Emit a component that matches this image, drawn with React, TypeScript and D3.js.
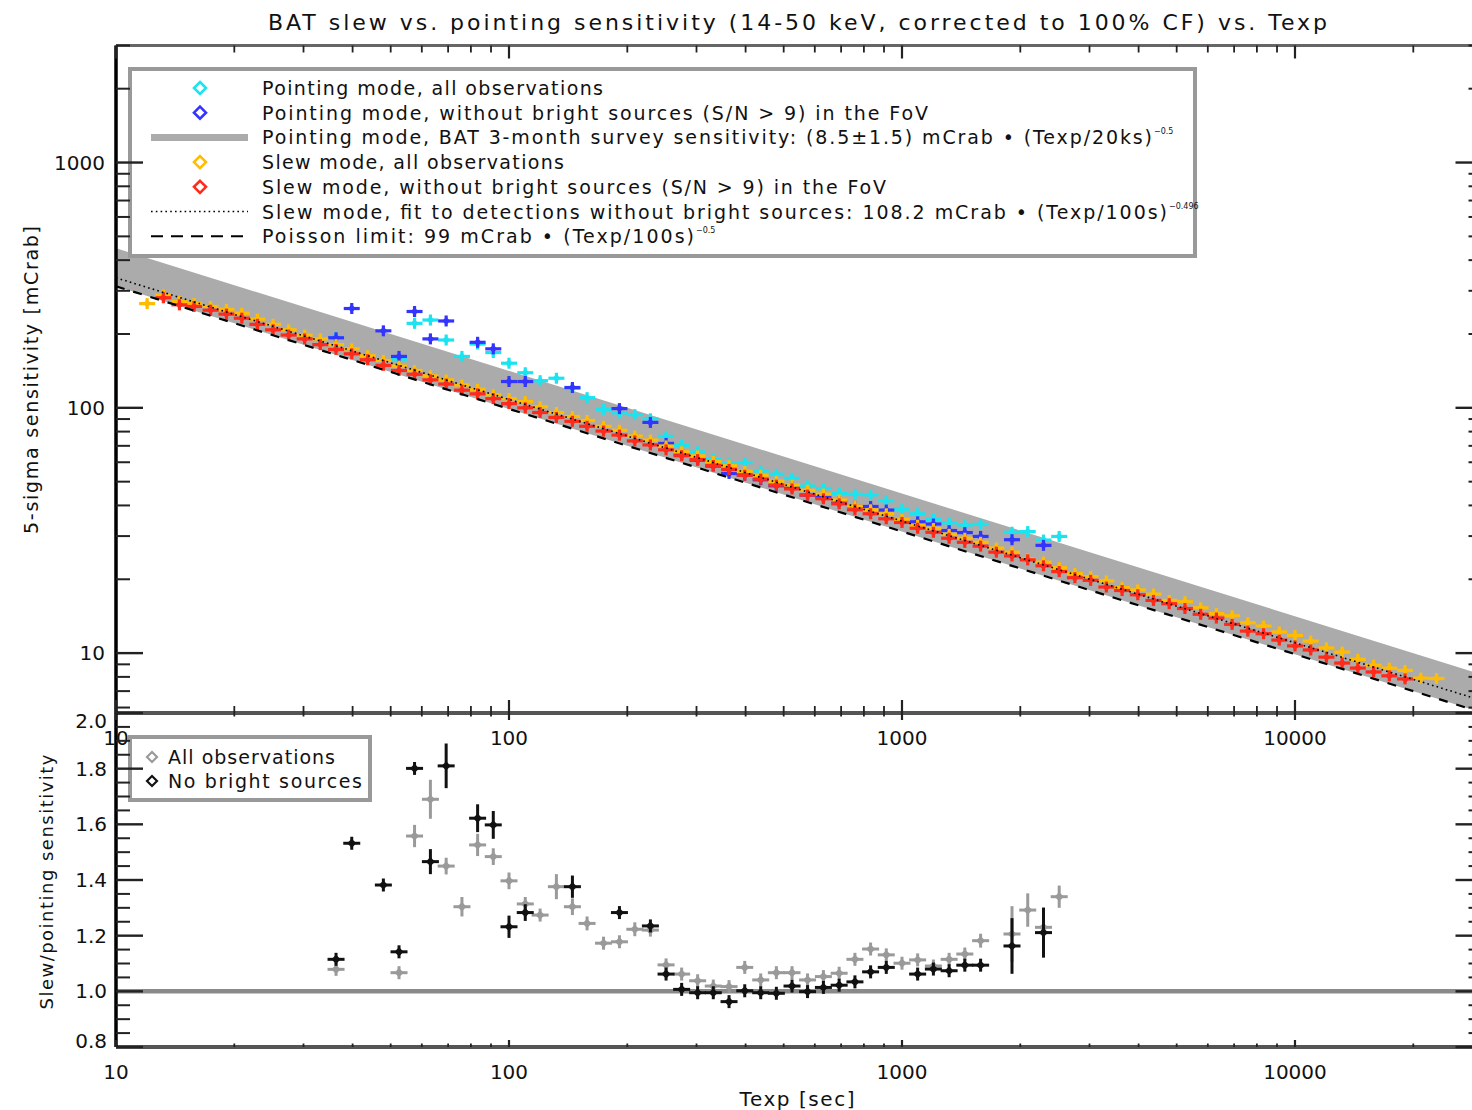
import React from "react";
import * as d3 from "d3";

// Exposure-time bins (s), 0.04 dex wide
const texpBins = [
  12.0, 13.2, 14.5, 15.8, 17.4, 19.1, 20.9, 22.9, 25.1, 27.5,
  30.2, 33.1, 36.3, 39.8, 43.7, 47.9, 52.5, 57.5, 63.1, 69.2,
  75.9, 83.2, 91.2, 100, 110, 120, 132, 145, 158, 174,
  191, 209, 229, 251, 275, 302, 331, 363, 398, 437,
  479, 525, 575, 631, 692, 759, 832, 912, 1000, 1096,
  1202, 1318, 1445, 1585, 1738, 1905, 2089, 2291, 2512, 2754,
  3020, 3311, 3631, 3981, 4365, 4786, 5248, 5754, 6310, 6918,
  7586, 8318, 9120, 10000, 10965, 12023, 13183, 14454, 15849, 17378,
  19055, 20893, 22909,
];

// Slew mode, all observations: 5-sigma sensitivity (mCrab)
const slewAllSens = [
  266, 288, 271, 266, 259, 252, 243, 230, 219, 208,
  198, 191, 181, 174, 163, 156, 148, 142, 135, 130,
  124, 119, 113, 109, 106, 101, 95.7, 92.2, 88.8, 84.1,
  81.0, 76.7, 73.9, 69.9, 66.2, 63.7, 60.4, 58.1, 55.1, 53.1,
  50.2, 48.4, 46.1, 44.5, 42.1, 39.8, 38.4, 37.0, 35.1, 33.2,
  32.2, 30.5, 29.4, 28.3, 26.8, 25.8, 24.2, 23.5, 22.3, 21.1,
  20.5, 19.7, 18.5, 18.1, 17.4, 16.4, 16.2, 15.3, 14.5, 14.2,
  13.3, 12.9, 12.2, 11.8, 11.2, 10.5, 10.1, 9.43, 8.93, 8.68,
  8.50, 7.91, 7.88,
];

// Slew mode, without bright sources (bins 13.2 s .. 19055 s)
const slewNoBrightTexp = texpBins.slice(1, 81);
const slewNoBrightSens = [
  281, 263, 259, 250, 241, 232, 219, 208, 198, 191,
  181, 173, 166, 157, 149, 142, 137, 130, 125, 118,
  114, 109, 104, 100, 95.7, 91.4, 88.1, 84.1, 80.4, 77.4,
  73.3, 70.6, 67.4, 63.8, 61.5, 58.2, 56.1, 53.1, 51.2, 48.4,
  46.7, 44.1, 42.6, 40.6, 38.4, 37.0, 35.3, 34.1, 32.3, 31.1,
  29.4, 28.3, 27.3, 25.8, 24.9, 24.0, 22.7, 21.5, 20.3, 19.8,
  18.6, 18.0, 17.3, 16.4, 15.9, 15.2, 14.4, 13.9, 13.1, 12.3,
  12.0, 11.3, 10.7, 10.3, 9.63, 9.11, 8.69, 8.38, 8.08, 7.85,
];

// Pointing mode, all observations, and the ratio to slew mode
const pointingAllTexp = [
  36.3, 52.5, 57.5, 63.1, 69.2, 75.9, 83.2, 91.2, 100, 110,
  120, 132, 145, 158, 174, 191, 209, 229, 251, 275,
  302, 331, 363, 398, 437, 479, 525, 575, 631, 692,
  759, 832, 912, 1000, 1096, 1202, 1318, 1445, 1585, 1905,
  2089, 2291, 2512,
];
const pointingAllSens = [
  195, 158, 221, 228, 189, 162, 182, 168, 152, 139,
  129, 132, 120, 110, 98.6, 95.4, 93.8, 90.2, 76.5, 70.3,
  66.1, 61.5, 59.1, 59.8, 55.3, 53.6, 51.6, 48.0, 46.9, 44.8,
  44.4, 44.2, 41.8, 38.6, 37.0, 35.1, 34.0, 33.3, 33.5, 31.1,
  31.3, 28.9, 29.9,
];
const ratioAll = [
  1.079, 1.067, 1.558, 1.690, 1.450, 1.304, 1.526, 1.484, 1.397, 1.314,
  1.274, 1.376, 1.304, 1.244, 1.173, 1.178, 1.223, 1.220, 1.095, 1.062,
  1.038, 1.019, 1.017, 1.086, 1.041, 1.067, 1.067, 1.041, 1.053, 1.065,
  1.115, 1.152, 1.131, 1.101, 1.113, 1.091, 1.115, 1.134, 1.182, 1.206,
  1.292, 1.230, 1.340,
];
const ratioAllErr = [
  0.02, 0.02, 0.04, 0.07, 0.03, 0.035, 0.04, 0.03, 0.03, 0.025,
  0.02, 0.045, 0.03, 0.025, 0.02, 0.02, 0.025, 0.02, 0.02, 0.015,
  0.015, 0.015, 0.015, 0.015, 0.015, 0.015, 0.015, 0.015, 0.015, 0.015,
  0.02, 0.02, 0.02, 0.02, 0.02, 0.02, 0.02, 0.02, 0.025, 0.10,
  0.06, 0.05, 0.04,
];

// Pointing mode, without bright sources, and the ratio to slew mode
const pointingNoBrightTexp = [
  36.3, 39.8, 47.9, 52.5, 57.5, 63.1, 69.2, 83.2, 91.2, 100,
  110, 145, 191, 229, 251, 275, 302, 331, 363, 398,
  437, 479, 525, 575, 631, 692, 759, 832, 912, 1096,
  1202, 1318, 1445, 1585, 1905, 2291,
];
const pointingNoBrightSens = [
  193, 254, 206, 162, 247, 191, 226, 185, 174, 128,
  128, 121, 99.3, 87.2, 71.6, 64.2, 61.2, 57.9, 54.0, 53.2,
  50.9, 48.1, 47.6, 44.1, 43.2, 41.5, 39.7, 39.6, 38.3, 34.3,
  33.6, 31.6, 31.0, 29.9, 29.0, 27.5,
];
const ratioNoBright = [
  1.115, 1.532, 1.382, 1.142, 1.801, 1.466, 1.810, 1.622, 1.598, 1.232,
  1.283, 1.376, 1.283, 1.235, 1.062, 1.007, 0.995, 0.995, 0.963, 1.002,
  0.995, 0.993, 1.019, 0.999, 1.014, 1.022, 1.034, 1.070, 1.086, 1.062,
  1.080, 1.074, 1.094, 1.094, 1.163, 1.211,
];
const ratioNoBrightErr = [
  0.015, 0.015, 0.015, 0.02, 0.02, 0.045, 0.08, 0.05, 0.05, 0.04,
  0.03, 0.04, 0.015, 0.02, 0.015, 0.015, 0.015, 0.015, 0.015, 0.015,
  0.015, 0.015, 0.015, 0.015, 0.015, 0.015, 0.015, 0.015, 0.015, 0.015,
  0.015, 0.015, 0.015, 0.015, 0.10, 0.09,
];

// Tick labels
const xTickLabels = [10, 100, 1000, 10000];
const yTopTickLabels = [10, 100, 1000];
const yBotTickLabels = ["0.8", "1.0", "1.2", "1.4", "1.6", "1.8", "2.0"];

// Model curves: survey band (8.5 +/- 1.5 mCrab at 20 ks), slew fit, Poisson limit
const surveyNorm = 8.5;
const surveyErr = 1.5;
const surveyPivot = 20000;
const fitNorm = 108.2;
const fitIndex = -0.496;
const poissonNorm = 99;
const poissonIndex = -0.5;
const modelPivot = 100;

const COL = {
  cyan: "#1ae4f0",
  blue: "#3434ff",
  orange: "#ffbc00",
  red: "#ff2a1a",
  gray: "#9a9a9a",
  black: "#111111",
  band: "#ababab",
};

const FONT = "'DejaVu Sans', Verdana, sans-serif";

const W = 1472;
const H = 1110;
const X0 = 116;
const X1 = 1482.5;
const YT0 = 45.5;
const YT1 = 713;
const YB1 = 1047;

const x = d3.scaleLog().domain([10, 30000]).range([X0, X1]);
const yTop = d3.scaleLog().domain([5.7, 3000]).range([YT1, YT0]);
const yBot = d3.scaleLinear().domain([0.8, 2.0]).range([YB1, YT1]);

const diamond = (cx: number, cy: number, r: number) =>
  `M${cx},${cy - r}L${cx + r},${cy}L${cx},${cy + r}L${cx - r},${cy}Z`;

function Marker(props: {
  cx: number;
  cy: number;
  hx: number;
  y1: number;
  y2: number;
  r: number;
  color: string;
  sw: number;
}) {
  const { cx, cy, hx, y1, y2, r, color, sw } = props;
  return (
    <g stroke={color} strokeWidth={sw}>
      <line x1={cx - hx} x2={cx + hx} y1={cy} y2={cy} />
      <line x1={cx} x2={cx} y1={y1} y2={y2} />
      <path d={diamond(cx, cy, r)} fill={color} stroke="none" />
    </g>
  );
}

function TopSeries(props: { texp: number[]; sens: number[]; color: string }) {
  return (
    <g>
      {props.texp.map((t, i) => {
        const cx = x(t);
        const cy = yTop(props.sens[i]);
        return (
          <Marker key={i} cx={cx} cy={cy} hx={8} y1={cy - 5.5} y2={cy + 5.5} r={4} color={props.color} sw={3.2} />
        );
      })}
    </g>
  );
}

function RatioSeries(props: { texp: number[]; ratio: number[]; err: number[]; color: string }) {
  return (
    <g>
      {props.texp.map((t, i) => {
        const cx = x(t);
        const v = props.ratio[i];
        const cy = yBot(v);
        const up = Math.min(yBot(v + props.err[i]), cy - 6.5);
        const dn = Math.max(yBot(v - props.err[i]), cy + 6.5);
        return <Marker key={i} cx={cx} cy={cy} hx={8.5} y1={up} y2={dn} r={4.6} color={props.color} sw={3} />;
      })}
    </g>
  );
}

const isDecade = (v: number) => Math.abs(Math.log10(v) - Math.round(Math.log10(v))) < 1e-6;

export default function App() {
  const modelT = [10, 30000];
  const band = d3
    .area<number>()
    .x((t) => x(t))
    .y0((t) => yTop((surveyNorm - surveyErr) * Math.pow(t / surveyPivot, -0.5)))
    .y1((t) => yTop((surveyNorm + surveyErr) * Math.pow(t / surveyPivot, -0.5)))(modelT);
  const fitLine = d3
    .line<number>()
    .x((t) => x(t))
    .y((t) => yTop(fitNorm * Math.pow(t / modelPivot, fitIndex)))(modelT);
  const poissonLine = d3
    .line<number>()
    .x((t) => x(t))
    .y((t) => yTop(poissonNorm * Math.pow(t / modelPivot, poissonIndex)))(modelT);

  const xTicks = x.ticks();
  const yTopTicks = yTop.ticks();
  const yBotMinor = yBot.ticks(24);

  const tickCol = "#222";

  // legend rows
  const legX = 262;
  const rowY = (i: number) => 88 + i * 24.7;
  const legendRows = [
    { text: "Pointing mode, all observations", len: 341 },
    { text: "Pointing mode, without bright sources (S/N > 9) in the FoV", len: 666 },
    { text: "Pointing mode, BAT 3-month survey sensitivity: (8.5\u00b11.5) mCrab \u2022 (Texp/20ks)", len: 890, sup: "\u22120.5" },
    { text: "Slew mode, all observations", len: 302 },
    { text: "Slew mode, without bright sources (S/N > 9) in the FoV", len: 624 },
    { text: "Slew mode, fit to detections without bright sources: 108.2 mCrab \u2022 (Texp/100s)", len: 905, sup: "\u22120.496" },
    { text: "Poisson limit: 99 mCrab \u2022 (Texp/100s)", len: 432, sup: "\u22120.5" },
  ];

  return (
    <svg
      width={W}
      height={H}
      viewBox={`0 0 ${W} ${H}`}
      style={{ position: "absolute", left: 0, top: 0, background: "#fff", display: "block" }}
      fontFamily={FONT}
    >
      <defs>
        <clipPath id="clipTop">
          <rect x={X0} y={YT0} width={X1 - X0} height={YT1 - YT0} />
        </clipPath>
        <clipPath id="clipBot">
          <rect x={X0} y={YT1} width={X1 - X0} height={YB1 - YT1} />
        </clipPath>
      </defs>
      <rect x={0} y={0} width={W} height={H} fill="#fff" />

      {/* title */}
      <text x={268} y={30} fontSize={22} textLength={1059} lengthAdjust="spacing" fill="#111">
        BAT slew vs. pointing sensitivity (14-50 keV, corrected to 100% CF) vs. Texp
      </text>

      {/* upper panel: sensitivity vs exposure */}
      <g clipPath="url(#clipTop)">
        <path d={band ?? ""} fill={COL.band} />
        <TopSeries texp={pointingAllTexp} sens={pointingAllSens} color={COL.cyan} />
        <TopSeries texp={pointingNoBrightTexp} sens={pointingNoBrightSens} color={COL.blue} />
        <TopSeries texp={texpBins} sens={slewAllSens} color={COL.orange} />
        <TopSeries texp={slewNoBrightTexp} sens={slewNoBrightSens} color={COL.red} />
        <path d={fitLine ?? ""} fill="none" stroke="#000" strokeWidth={1.6} strokeDasharray="1.6 3.2" />
        <path d={poissonLine ?? ""} fill="none" stroke="#000" strokeWidth={2.2} strokeDasharray="9 9" />
      </g>

      {/* upper legend */}
      <rect x={130} y={69} width={1065} height={187} fill="#fff" stroke="#999" strokeWidth={4} />
      <path d={diamond(200, rowY(0), 6)} fill="#fff" stroke={COL.cyan} strokeWidth={2.6} />
      <path d={diamond(200, rowY(1), 6)} fill="#fff" stroke={COL.blue} strokeWidth={2.6} />
      <line x1={151} x2={248} y1={rowY(2)} y2={rowY(2)} stroke={COL.band} strokeWidth={7} />
      <path d={diamond(200, rowY(3), 6)} fill="#fff" stroke={COL.orange} strokeWidth={2.6} />
      <path d={diamond(200, rowY(4), 6)} fill="#fff" stroke={COL.red} strokeWidth={2.6} />
      <line x1={151} x2={248} y1={rowY(5)} y2={rowY(5)} stroke="#000" strokeWidth={1.6} strokeDasharray="1.6 3.2" />
      <line x1={151} x2={248} y1={rowY(6)} y2={rowY(6)} stroke="#000" strokeWidth={2} strokeDasharray="12 8" />
      {legendRows.map((r, i) => (
        <g key={i}>
          <text x={legX} y={rowY(i) + 7} fontSize={19} textLength={r.len} lengthAdjust="spacing" fill="#111">
            {r.text}
          </text>
          {r.sup ? (
            <text x={legX + r.len + 2} y={rowY(i) - 3} fontSize={8} fill="#111">
              {r.sup}
            </text>
          ) : null}
        </g>
      ))}

      {/* upper panel axis labels */}
      {yTopTickLabels.map((v) => (
        <text key={v} x={105} y={yTop(v) + 7} fontSize={20} textAnchor="end" fill="#111">
          {v}
        </text>
      ))}
      {xTickLabels.map((v) => (
        <text key={"xt" + v} x={x(v)} y={745} fontSize={20} textAnchor="middle" fill="#111">
          {v}
        </text>
      ))}
      <text
        transform="translate(38,380) rotate(-90)"
        fontSize={19}
        textAnchor="middle"
        textLength={308}
        lengthAdjust="spacing"
        fill="#111"
      >
        5-sigma sensitivity [mCrab]
      </text>

      {/* lower panel: slew/pointing ratio */}
      <g clipPath="url(#clipBot)">
        <line x1={X0} x2={X1} y1={yBot(1)} y2={yBot(1)} stroke="#8a8a8a" strokeWidth={4.5} />
        <RatioSeries texp={pointingAllTexp} ratio={ratioAll} err={ratioAllErr} color={COL.gray} />
        <RatioSeries texp={pointingNoBrightTexp} ratio={ratioNoBright} err={ratioNoBrightErr} color={COL.black} />
      </g>

      {/* lower legend */}
      <rect x={130} y={737} width={240} height={63} fill="#fff" stroke="#999" strokeWidth={4} />
      <path d={diamond(152, 757, 5)} fill="#fff" stroke={COL.gray} strokeWidth={2.2} />
      <path d={diamond(152, 781, 5)} fill="#fff" stroke={COL.black} strokeWidth={2.2} />
      <text x={168} y={764} fontSize={19} textLength={167} lengthAdjust="spacing" fill="#111">
        All observations
      </text>
      <text x={168} y={788} fontSize={19} textLength={194} lengthAdjust="spacing" fill="#111">
        No bright sources
      </text>

      {yBotTickLabels.map((s) => {
        const ty = Math.min(Math.max(yBot(+s), 721), 1041);
        return (
          <text key={s} x={107} y={ty + 7} fontSize={20} textAnchor="end" fill="#111">
            {s}
          </text>
        );
      })}
      {xTickLabels.map((v) => (
        <text key={"xb" + v} x={x(v)} y={1079} fontSize={20} textAnchor="middle" fill="#111">
          {v}
        </text>
      ))}
      <text x={797} y={1106} fontSize={20} textAnchor="middle" textLength={115} lengthAdjust="spacing" fill="#111">
        Texp [sec]
      </text>
      <text
        transform="translate(53,882) rotate(-90)"
        fontSize={18}
        textAnchor="middle"
        textLength={255}
        lengthAdjust="spacing"
        fill="#111"
      >
        Slew/pointing sensitivity
      </text>

      {/* frame lines */}
      <line x1={X0} x2={X1} y1={YT0} y2={YT0} stroke="#666" strokeWidth={3} />
      <line x1={X0} x2={X1} y1={YT1} y2={YT1} stroke="#555" strokeWidth={4} />
      <line x1={X0} x2={X1} y1={YB1} y2={YB1} stroke="#555" strokeWidth={4} />
      <line x1={X0} x2={X0} y1={YT0} y2={YB1} stroke="#000" strokeWidth={3.5} />
      <line x1={X1} x2={X1} y1={YT0} y2={YB1} stroke="#000" strokeWidth={3.5} />

      {/* x ticks */}
      {xTicks.map((t, i) => {
        const px = x(t);
        const maj = isDecade(t);
        const lt = maj ? 13 : 7;
        const lb = maj ? 7 : 3.5;
        return (
          <g key={"xtk" + i} stroke={tickCol} strokeWidth={maj ? 2.2 : 1.8}>
            <line x1={px} x2={px} y1={YT0} y2={YT0 + lt} />
            <line x1={px} x2={px} y1={YT1} y2={YT1 - lt} />
            <line x1={px} x2={px} y1={YT1} y2={YT1 + lb} />
            <line x1={px} x2={px} y1={YB1} y2={YB1 - lb} />
          </g>
        );
      })}

      {/* y ticks, upper panel */}
      {yTopTicks.map((v, i) => {
        const py = yTop(v);
        const maj = isDecade(v);
        const len = maj ? 27 : 14;
        return (
          <g key={"ytk" + i} stroke={tickCol} strokeWidth={maj ? 2.4 : 2}>
            <line x1={X0} x2={X0 + len} y1={py} y2={py} />
            <line x1={X1} x2={X1 - len} y1={py} y2={py} />
          </g>
        );
      })}

      {/* y ticks, lower panel */}
      {yBotMinor.map((v, i) => {
        const py = yBot(v);
        const maj = Math.abs(v * 5 - Math.round(v * 5)) < 1e-6;
        const len = maj ? 27 : 14;
        return (
          <g key={"ybk" + i} stroke={tickCol} strokeWidth={maj ? 2.4 : 2}>
            <line x1={X0} x2={X0 + len} y1={py} y2={py} />
            <line x1={X1} x2={X1 - len} y1={py} y2={py} />
          </g>
        );
      })}
    </svg>
  );
}
